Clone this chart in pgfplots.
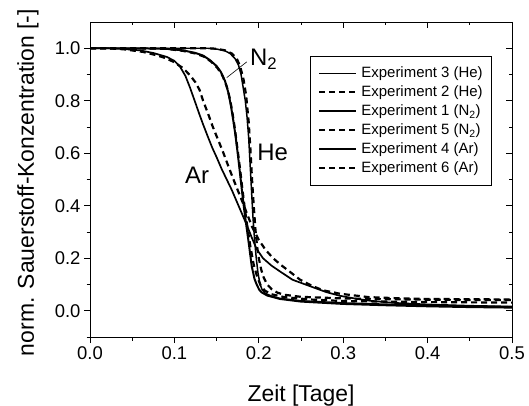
\documentclass[border=0pt]{standalone}
\usepackage{pgfplots}
\pgfplotsset{compat=1.18}
\usepackage{fontspec}
\setmainfont{Liberation Sans}
\pgfplotstableread{
x y
0 1.0
0.05 1.0
0.10 1.0
0.14 1.0
0.15 0.997
0.16 0.99
0.166 0.98
0.172 0.96
0.176 0.935
0.179 0.90
0.181 0.86
0.184 0.80
0.186 0.74
0.188 0.66
0.190 0.54
0.1915 0.45
0.193 0.36
0.195 0.27
0.197 0.20
0.199 0.145
0.2015 0.10
0.204 0.08
0.208 0.066
0.215 0.056
0.225 0.047
0.25 0.038
0.30 0.030
0.35 0.025
0.40 0.021
0.45 0.018
0.50 0.015
}\expA
\pgfplotstableread{
x y
0 1.0
0.05 1.0
0.10 1.0
0.14 1.0
0.15 0.998
0.16 0.992
0.168 0.98
0.174 0.96
0.178 0.93
0.182 0.88
0.185 0.82
0.188 0.72
0.190 0.62
0.192 0.50
0.194 0.40
0.196 0.31
0.198 0.245
0.200 0.20
0.203 0.155
0.206 0.125
0.210 0.10
0.215 0.083
0.222 0.069
0.230 0.061
0.25 0.053
0.30 0.047
0.35 0.044
0.40 0.042
0.45 0.041
0.50 0.041
}\expB
\pgfplotstableread{
x y
0 1.0
0.05 1.0
0.09 0.998
0.11 0.992
0.125 0.982
0.134 0.972
0.142 0.955
0.150 0.932
0.155 0.91
0.160 0.875
0.164 0.83
0.167 0.78
0.170 0.72
0.1725 0.665
0.175 0.60
0.1775 0.53
0.180 0.458
0.1825 0.39
0.185 0.33
0.188 0.26
0.1916 0.17
0.195 0.12
0.1975 0.10
0.2005 0.08
0.2034 0.07
0.21 0.058
0.225 0.045
0.25 0.035
0.30 0.026
0.35 0.021
0.40 0.017
0.45 0.014
0.50 0.012
}\expC
\pgfplotstableread{
x y
0 1.0
0.05 1.0
0.09 0.998
0.11 0.99
0.125 0.98
0.135 0.968
0.143 0.95
0.151 0.925
0.157 0.895
0.162 0.855
0.166 0.805
0.169 0.75
0.172 0.685
0.175 0.61
0.178 0.535
0.1805 0.465
0.183 0.40
0.186 0.33
0.190 0.245
0.194 0.175
0.198 0.13
0.202 0.098
0.207 0.077
0.215 0.063
0.23 0.052
0.26 0.043
0.30 0.037
0.40 0.033
0.50 0.031
}\expD
\pgfplotstableread{
x y
0 1.0
0.02 1.0
0.04 0.997
0.059 0.992
0.075 0.982
0.091 0.967
0.100 0.952
0.1066 0.93
0.113 0.895
0.1185 0.85
0.124 0.80
0.130 0.745
0.134 0.71
0.140 0.66
0.145 0.62
0.150 0.585
0.156 0.54
0.162 0.50
0.168 0.46
0.174 0.415
0.180 0.37
0.186 0.325
0.1915 0.28
0.1975 0.235
0.205 0.20
0.215 0.172
0.225 0.15
0.240 0.118
0.2646 0.089
0.280 0.071
0.296 0.057
0.315 0.046
0.332 0.038
0.36 0.030
0.40 0.024
0.45 0.019
0.50 0.016
}\expE
\pgfplotstableread{
x y
0 1.0
0.02 1.0
0.04 0.996
0.063 0.986
0.079 0.973
0.090 0.962
0.099 0.948
0.110 0.925
0.1185 0.897
0.125 0.87
0.130 0.84
0.134 0.80
0.140 0.75
0.145 0.705
0.150 0.665
0.157 0.61
0.164 0.55
0.170 0.50
0.1752 0.458
0.180 0.42
0.186 0.37
0.192 0.32
0.200 0.27
0.208 0.232
0.217 0.20
0.226 0.175
0.235 0.153
0.249 0.118
0.263 0.095
0.276 0.078
0.296 0.065
0.33 0.052
0.37 0.047
0.40 0.045
0.45 0.044
0.50 0.043
}\expF
\begin{document}
\begin{tikzpicture}[x=1bp,y=1bp]
\useasboundingbox (0,0) rectangle (529,405);
\begin{axis}[
  at={(90bp,68bp)}, anchor=south west,
  width=422bp, height=315bp, scale only axis,
  xmin=0, xmax=0.5, ymin=-0.1, ymax=1.1,
  xtick={0,0.1,0.2,0.3,0.4,0.5},
  minor xtick={0.05,0.15,0.25,0.35,0.45},
  ytick={0,0.2,0.4,0.6,0.8,1.0},
  minor ytick={-0.1,0.1,0.3,0.5,0.7,0.9},
  xtick pos=left, ytick pos=left,
  tick align=outside,
  major tick length=6bp, minor tick length=3.5bp,
  every tick/.style={black, line width=0.8pt},
  axis line style={line width=0.8pt},
  /pgf/number format/assume math mode=true,
  /pgf/number format/fixed, /pgf/number format/fixed zerofill, /pgf/number format/precision=1,
  tick label style={font=\fontsize{18.5}{20}\selectfont},
  xlabel={Zeit [Tage]},
  ylabel={norm. Sauerstoff-Konzentration [-]},
  label style={font=\fontsize{23}{26}\selectfont},
  xlabel style={at={(axis description cs:0.5,-0.2054)}, anchor=base},
  ylabel style={at={(axis description cs:-0.1327,0.49)}, anchor=base},
  legend style={at={(axis description cs:0.9526,0.892)}, anchor=north east,
    font=\fontsize{15}{18}\selectfont, draw=black, line width=0.6pt,
    inner xsep=8bp, inner ysep=7.5bp, row sep=0bp, column sep=3bp,
    nodes={inner sep=1bp, text height=13bp, text depth=4bp}},
  legend cell align=left,
  legend image code/.code={\draw[#1] (0bp,0bp) -- (37bp,0bp);},
  solidthin/.style={black, line width=1.5pt},
  solidthick/.style={black, line width=2pt},
  dashline/.style={black, line width=2.2pt, dash pattern=on 6bp off 4bp},
]
\addplot[solidthin, line join=round] table {\expA};
\addlegendentry{Experiment 3 (He)}
\addplot[dashline] table {\expB};
\addlegendentry{Experiment 2 (He)}
\addplot[solidthick, line join=round] table {\expC};
\addlegendentry{Experiment 1 (N\textsubscript{2})}
\addplot[dashline] table {\expD};
\addlegendentry{Experiment 5 (N\textsubscript{2})}
\addplot[solidthin, line width=1.7pt, line join=round] table {\expE};
\addlegendentry{Experiment 4 (Ar)}
\addplot[dashline] table {\expF};
\addlegendentry{Experiment 6 (Ar)}
\node[anchor=base west, font=\fontsize{24}{26}\selectfont, inner sep=0pt] at (axis cs:0.1896,0.935) {N\textsubscript{2}};
\node[anchor=base west, font=\fontsize{24}{26}\selectfont, inner sep=0pt] at (axis cs:0.198,0.572) {He};
\node[anchor=base west, font=\fontsize{24}{26}\selectfont, inner sep=0pt] at (axis cs:0.1126,0.485) {Ar};
\draw[black, line width=0.6pt] (axis cs:0.1857,0.948) -- (axis cs:0.162,0.888);
\end{axis}
\begin{axis}[
  at={(90bp,68bp)}, anchor=south west,
  width=422bp, height=315bp, scale only axis,
  xmin=0, xmax=0.5, ymin=-0.1, ymax=1.1,
  xtick={0,0.1,0.2,0.3,0.4,0.5},
  minor xtick={0.05,0.15,0.25,0.35,0.45},
  ytick={0,0.2,0.4,0.6,0.8,1.0},
  minor ytick={-0.1,0.1,0.3,0.5,0.7,0.9},
  xtick pos=right, ytick pos=right,
  tick align=inside,
  major tick length=6bp, minor tick length=3.5bp,
  every tick/.style={black, line width=0.8pt},
  axis line style={line width=0.8pt},
  xticklabels={}, yticklabels={},
]
\end{axis}
\end{tikzpicture}
\end{document}
